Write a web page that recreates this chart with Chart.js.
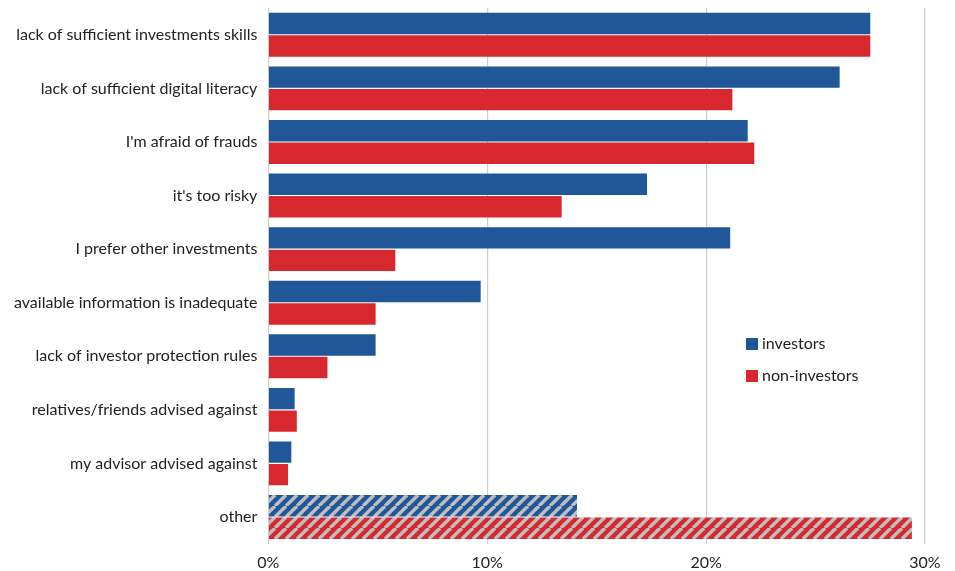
<!DOCTYPE html>
<html>
<head>
<meta charset="utf-8">
<script src="https://cdn.jsdelivr.net/npm/chart.js@4"></script>
<style>
  html, body { margin: 0; padding: 0; background: #fff; }
  #wrap { width: 955px; height: 571px; position: relative; }
</style>
</head>
<body>
<div id="wrap"><canvas id="myChart"></canvas></div>
<script>
const categories = [
    "lack of sufficient investments skills",
    "lack of sufficient digital literacy",
    "I'm afraid of frauds",
    "it's too risky",
    "I prefer other investments",
    "available information is inadequate",
    "lack of investor protection rules",
    "relatives/friends advised against",
    "my advisor advised against",
    "other"
]
const investors = [27.5, 26.1, 21.9, 17.3, 21.1, 9.7, 4.9, 1.2, 1.05, 14.1]
const nonInvestors = [27.5, 21.2, 22.2, 13.4, 5.8, 4.9, 2.7, 1.3, 0.9, 29.4]
const xTicks = [0, 10, 20, 30]

const BLUE = '#1f5799'
const RED = '#d7282f'
const FONT = 'Lato, "Open Sans", sans-serif'

const makeHatch = (color) => {
    const s = 11
    const c = document.createElement('canvas')
    c.width = s
    c.height = s
    const g = c.getContext('2d')
    g.fillStyle = color
    g.fillRect(0, 0, s, s)
    g.strokeStyle = '#bfbfbf'
    g.lineWidth = 3.4
    for (let k = -s; k <= 2 * s; k += s) {
        g.beginPath()
        g.moveTo(k, s)
        g.lineTo(k + s, 0)
        g.stroke()
    }
    return g.createPattern(c, 'repeat')
}

const blueHatch = makeHatch(BLUE)
const redHatch = makeHatch(RED)

const legendPlugin = {
    id: 'insideLegend',
    afterDraw(chart) {
        const ctx = chart.ctx
        const items = [
            { label: 'investors', color: BLUE },
            { label: 'non-investors', color: RED }
        ]
        ctx.save()
        ctx.font = '16px ' + FONT
        ctx.textBaseline = 'middle'
        items.forEach((item, i) => {
            const y = 344 + i * 32
            ctx.fillStyle = item.color
            ctx.fillRect(746, y - 6, 12, 12)
            ctx.fillStyle = '#222'
            ctx.fillText(item.label, 762, y)
        })
        ctx.restore()
    }
}

const ctx = document.getElementById('myChart')
const myChart = new Chart(ctx, {
    type: 'bar',
    data: {
        labels: categories,
        datasets: [{
            label: 'investors',
            data: investors,
            backgroundColor: (c) => c.dataIndex === 9 ? blueHatch : BLUE,
            barPercentage: 0.95,
            categoryPercentage: 0.84
        },
        {
            label: 'non-investors',
            data: nonInvestors,
            backgroundColor: (c) => c.dataIndex === 9 ? redHatch : RED,
            barPercentage: 0.95,
            categoryPercentage: 0.84
        }]
    },
    options: {
        indexAxis: 'y',
        responsive: true,
        maintainAspectRatio: false,
        animation: false,
        layout: { padding: { top: 8, right: 30, bottom: -10, left: 3 } },
        plugins: {
            legend: { display: false },
            tooltip: { enabled: false }
        },
        scales: {
            x: {
                min: 0,
                max: 30,
                afterBuildTicks: (axis) => { axis.ticks = xTicks.map(v => ({ value: v })) },
                afterFit: (scale) => { scale.paddingTop = 0; scale.paddingBottom = 0 },
                grid: { color: '#cccccc', lineWidth: 1.2, drawTicks: false },
                border: { display: false },
                ticks: {
                    callback: (v) => v + '%',
                    color: '#222',
                    padding: 9,
                    font: { size: 16, family: FONT }
                }
            },
            y: {
                afterFit: (scale) => { scale.paddingTop = 0; scale.paddingBottom = 0 },
                grid: { display: false, drawTicks: false },
                border: { display: false },
                ticks: {
                    color: '#222',
                    padding: 11,
                    font: { size: 16, family: FONT }
                }
            }
        }
    },
    plugins: [legendPlugin]
});
</script>
</body>
</html>
